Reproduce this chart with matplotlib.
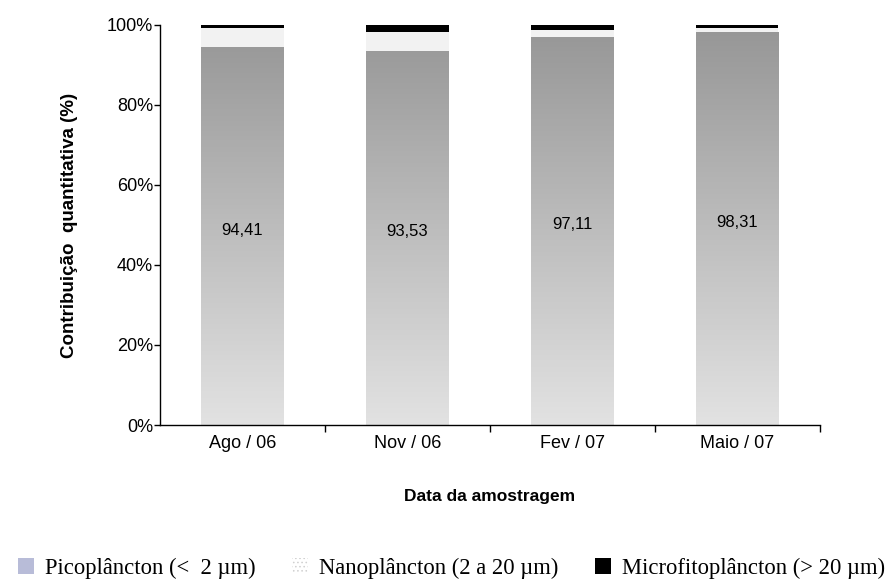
import matplotlib

matplotlib.use("Agg")
import matplotlib.pyplot as plt
import numpy as np
from matplotlib.colors import LinearSegmentedColormap
from matplotlib.patches import Patch

categories = ["Ago / 06", "Nov / 06", "Fev / 07", "Maio / 07"]
pico = [94.41, 93.53, 97.11, 98.31]
nano = [4.89, 4.72, 1.69, 0.99]
micro = [0.70, 1.75, 1.20, 0.70]
pico_labels = ["94,41", "93,53", "97,11", "98,31"]

legend_labels = [
    "Picoplâncton (<  2 µm)",
    "Nanoplâncton (2 a 20 µm)",
    "Microfitoplâncton (> 20 µm)",
]

plt.rcParams["font.family"] = ["Liberation Sans", "DejaVu Sans"]
plt.rcParams["hatch.color"] = "#d4d4d4"
plt.rcParams["hatch.linewidth"] = 0.6

fig = plt.figure(figsize=(8.91, 5.85), dpi=100)
ax = fig.add_axes([0.1796, 0.2735, 0.7404, 0.6838])

x = np.arange(len(categories))
width = 0.5
pico = np.array(pico)
nano = np.array(nano)
micro = np.array(micro)

# gradient fill for picoplankton bars
grad_cmap = LinearSegmentedColormap.from_list("g", ["#e2e2e2", "#969696"])
pico_bars = ax.bar(x, pico, width, color="none", edgecolor="none")
for bar in pico_bars:
    x0 = bar.get_x()
    h = bar.get_height()
    img = ax.imshow(
        np.linspace(0, 1, 256).reshape(-1, 1) * (h / 100.0),
        extent=[x0, x0 + width, 0, h],
        origin="lower",
        aspect="auto",
        cmap=grad_cmap,
        vmin=0,
        vmax=1,
        zorder=1,
    )
    img.set_clip_path(bar)

ax.bar(x, nano, width, bottom=pico, color="#f2f2f2", edgecolor="#f2f2f2",
       hatch="....", linewidth=0, zorder=2)
ax.bar(x, micro, width, bottom=pico + nano, color="black", linewidth=0, zorder=2)

for xi, v, lab in zip(x, pico, pico_labels):
    ax.text(xi, v / 2 + 1.5, lab, ha="center", va="center", fontsize=12, zorder=3)

ax.set_xlim(-0.5, 3.5)
ax.set_ylim(0, 100)
ax.set_yticks(np.arange(0, 101, 20))
ax.set_yticklabels([f"{t}%" for t in range(0, 101, 20)], fontsize=13)
ax.set_xticks(x)
ax.set_xticklabels(categories, fontsize=13)
ax.tick_params(axis="x", length=0, pad=7)
ax.set_xticks(np.arange(0.5, 3.6, 1), minor=True)
ax.tick_params(axis="x", which="minor", length=5, direction="out", width=1)
ax.tick_params(axis="y", length=4, direction="out", width=1, pad=1)

for side in ["top", "right"]:
    ax.spines[side].set_visible(False)
ax.spines["left"].set_linewidth(1)
ax.spines["bottom"].set_linewidth(1)

ax.set_xlabel("Data da amostragem", fontsize=12.5, fontweight="bold", labelpad=27)
ax.set_ylabel("Contribuição  quantitativa (%)", fontsize=13.5, fontweight="bold", labelpad=21)

handles = [
    Patch(facecolor="#b8bcd8", edgecolor="none"),
    Patch(facecolor="white", edgecolor="#d0d0d0", hatch="....", linewidth=0),
    Patch(facecolor="black", edgecolor="none"),
]
fig.legend(
    handles,
    legend_labels,
    loc="lower center",
    bbox_to_anchor=(0.507, -0.025),
    ncol=3,
    frameon=False,
    prop={"family": ["Liberation Serif", "DejaVu Serif"], "size": 16.3},
    handlelength=0.7,
    handleheight=0.7,
    handletextpad=0.5,
    columnspacing=1.6,
)

fig.savefig("out.png", dpi=100)
plt.close(fig)
